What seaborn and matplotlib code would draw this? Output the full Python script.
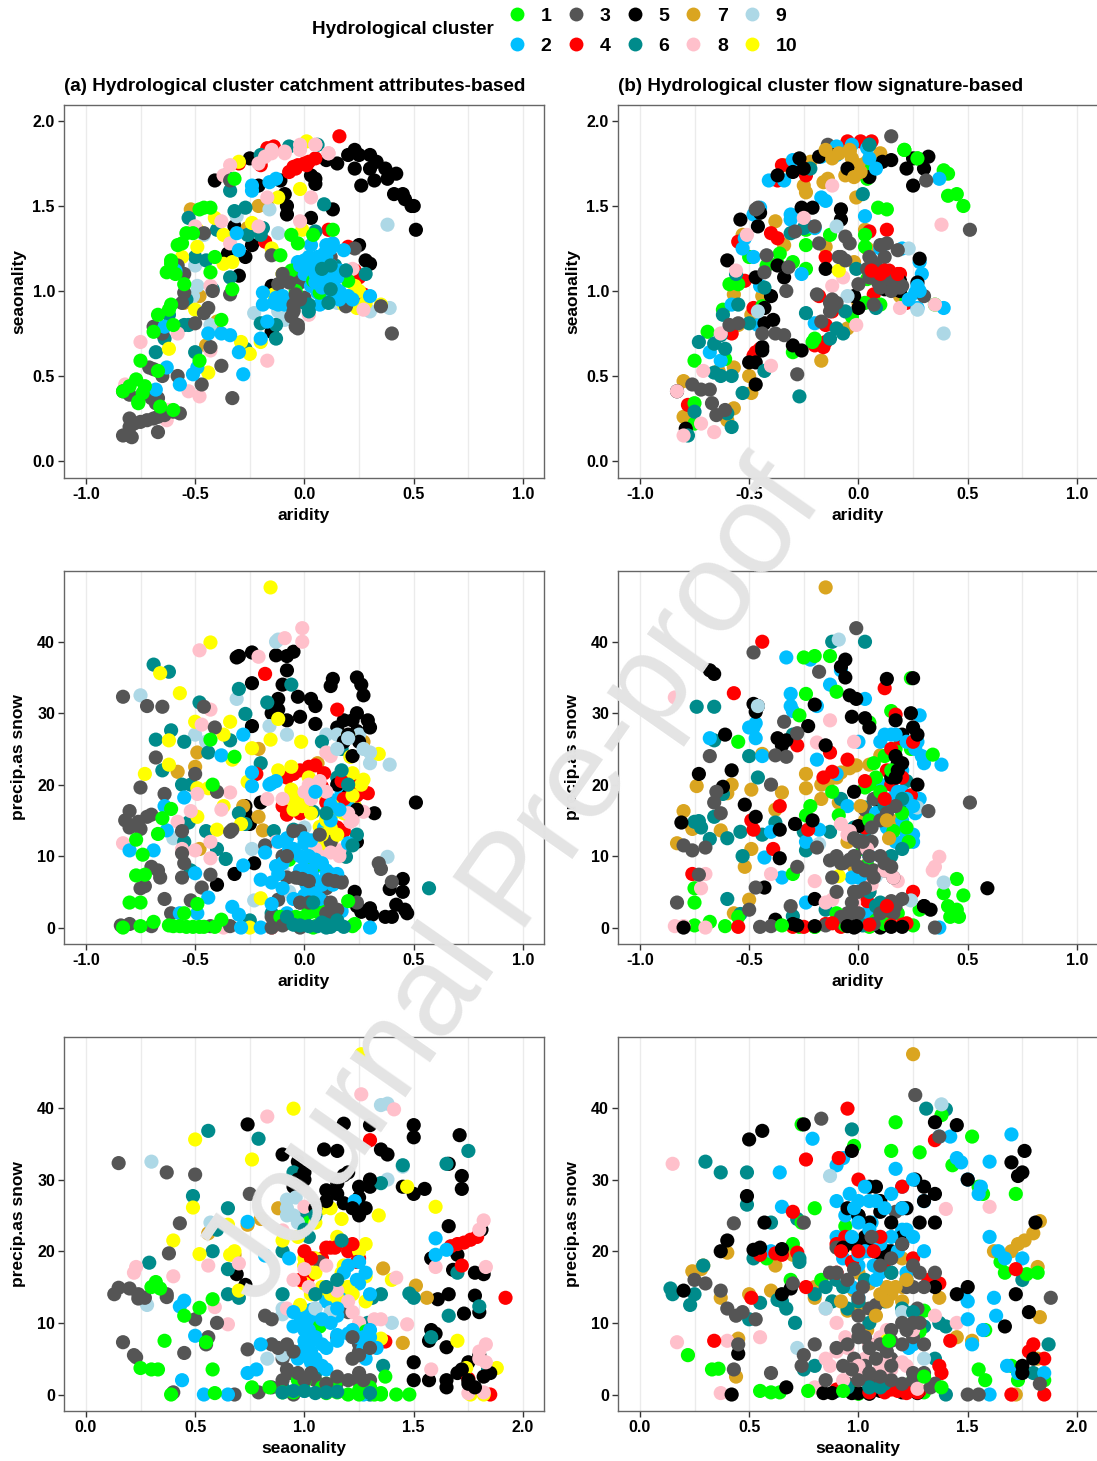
import matplotlib
matplotlib.use("Agg")
import matplotlib.pyplot as plt
from matplotlib.lines import Line2D
from matplotlib.ticker import MultipleLocator
import pandas as pd
import seaborn as sns

COLORS = {1: "#00ff00", 2: "#00bfff", 3: "#555555", 4: "#ff0000", 5: "#000000",
          6: "#008b8b", 7: "#daa520", 8: "#ffc0cb", 9: "#add8e6", 10: "#ffff00"}

a_ar_se = {
 5: [(-.41,1.65),(-.25,1.78),(-.21,1.62),(-.11,1.65),(-.09,1.57),(-.08,1.5),(-.08,1.45),(.03,1.68),(.05,1.66),(.05,1.63),(.1,1.77),(.15,1.75),(.2,1.8),(.23,1.83),(.25,1.8),(.3,1.8),(.33,1.76),(.23,1.72),(.3,1.72),(.32,1.65),(.37,1.72),(.38,1.66),(.42,1.69),(.41,1.57),(.45,1.57),(.46,1.54),(.49,1.5),(.5,1.5),(.51,1.36),(.26,1.62),(.13,1.48),(.03,1.43),(-.32,1.38),(-.35,1.22),(-.27,1.2),(-.24,1.27),(-.3,1.09),(-.15,.76),(.25,1.27),(.28,1.18),(.3,1.16),(-.15,1.03)],
 7: [(-.52,1.48),(-.21,1.5),(-.17,1.5),(-.26,1.37),(-.48,.97),(-.55,.93),(-.4,.82),(-.45,.68)],
 9: [(-.46,1.33),(-.31,1.44),(-.16,1.48),(.38,1.39),(-.12,1.34),(-.5,1.15),(-.49,1.03),(-.51,.97),(-.23,.87),(-.09,.83),(-.43,.8),(.39,.9),(.3,.88),(-.12,.88),(.15,.93)],
 4: [(.16,1.91),(-.14,1.85),(-.17,1.84),(-.3,1.75),(-.2,1.74),(-.07,1.7),(-.05,1.73),(-.03,1.74),(0,1.75),(.02,1.76),(.05,1.78),(-.18,1.29),(.11,1.36),(.23,1.12),(.25,1.08),(.27,.98),(.2,1.26)],
 6: [(-.34,1.59),(-.36,1.68),(-.2,1.8),(-.07,1.85),(.06,1.86),(.09,1.51),(-.53,1.43),(-.32,1.47),(-.27,1.49),(-.4,1.36),(-.19,1.37),(-.26,1.33),(-.45,1.18),(-.5,1.2),(-.34,1.08),(-.42,1.01),(-.54,.95),(-.55,.8),(-.68,.64),(-.64,.72),(-.5,.64),(-.27,.66),(-.2,.81),(-.13,.72),(-.13,.8),(-.62,.86),(.0,.93),(.02,.9),(.11,.94),(.12,1.01),(.09,1.13),(.14,1.15),(.19,1.12),(-.53,.8),(.28,1.1),(.05,1.35),(-.2,1.33)],
 10: [(.01,1.88),(-.3,1.76),(-.02,1.6),(-.12,1.55),(-.41,1.43),(-.24,1.4),(-.01,1.36),(-.37,1.33),(-.49,1.26),(-.56,1.2),(-.49,1.36),(-.37,1.16),(-.33,1.17),(-.15,1.25),(-.1,1.1),(-.14,.98),(-.5,.89),(-.62,.66),(-.44,.52),(-.29,.7),(-.25,.63),(-.2,.7),(.23,1.03),(.25,1.0),(.28,.93),(.35,.92),(.24,.9),(.18,.92)],
 8: [(-.34,1.74),(-.37,1.68),(-.18,1.79),(-.15,1.81),(-.09,1.81),(-.02,1.83),(.05,1.86),(.11,1.81),(-.21,1.75),(-.17,1.55),(.03,1.55),(-.02,1.41),(-.38,1.41),(-.5,1.38),(-.21,1.38),(-.34,1.28),(-.43,1.03),(.22,1.13),(.27,.89),(.02,.86),(-.75,.7),(-.58,.75),(-.43,.65),(-.17,.59),(-.53,.41),(-.48,.38),(-.82,.45),(-.62,.3),(-.63,.24)],
 3: [(-.34,1.65),(-.46,1.34),(-.15,1.21),(-.42,1.0),(-.55,.99),(-.56,.93),(-.44,.9),(-.46,.87),(-.5,.81),(-.65,.75),(-.69,.79),(.0,.96),(-.05,.95),(-.05,.89),(-.06,.85),(-.04,.79),(-.03,.78),(-.03,.8),(-.12,1.04),(-.08,1.1),(-.05,1.08),(-.02,1.05),(.12,1.2),(.23,1.25),(.19,.91),(.35,.91),(.4,.75),(-.43,.67),(-.38,.56),(-.71,.55),(-.69,.54),(-.65,.5),(-.58,.5),(-.47,.45),(-.33,.37),(-.83,.41),(-.8,.39),(-.68,.34),(-.7,.37),(-.67,.37),(-.6,.29),(-.57,.28),(-.64,.27),(-.69,.25),(-.72,.24),(-.75,.23),(-.67,.26),(-.8,.25),(-.78,.22),(-.8,.2),(-.67,.17),(-.83,.15),(-.8,.15),(-.79,.14),(-.55,1.1),(-.58,1.15),(-.34,.98)],
 2: [(-.24,1.62),(-.24,1.59),(-.16,1.64),(-.13,1.66),(-.31,1.34),(-.3,1.24),(-.59,1.12),(-.64,.79),(-.44,.75),(-.38,.75),(-.34,.74),(-.2,.72),(-.3,.64),(-.28,.51),(-.57,.45),(-.51,.51),(-.49,.55),(-.63,.55),(-.68,.42),(-.19,.99),(-.19,.92),(-.17,.82),(-.12,.95),(-.14,.93),(-.1,.97),(-.03,1.17),(.01,1.14),(.06,1.2),(.03,1.27),(.1,1.27),(.13,1.28),(.18,1.24),(.09,1.22),(.04,1.12),(0,1.1),(.09,1.06),(.13,1.05),(.1,1.01),(.06,.99),(.03,1.03),(.16,1.0),(.2,.97),(.22,.95),(.3,.97),(.07,.92),(.12,1.15),(.16,1.12),(.02,1.2)],
 1: [(-.43,1.49),(-.46,1.49),(-.48,1.48),(-.54,1.34),(-.51,1.34),(-.56,1.28),(-.58,1.27),(-.61,1.18),(-.61,1.16),(-.63,1.11),(-.59,1.1),(-.55,1.04),(-.41,1.2),(-.43,1.11),(-.33,1.01),(-.61,.92),(-.62,.89),(-.67,.86),(-.6,.8),(-.69,.76),(-.75,.59),(-.67,.53),(-.77,.48),(-.73,.44),(-.8,.44),(-.83,.41),(-.74,.4),(-.76,.35),(-.76,.34),(-.66,.32),(-.6,.3),(-.38,.83),(-.48,.59),(-.32,1.66),(-.06,1.33),(-.03,1.28),(.04,1.33),(.13,1.36),(-.11,1.21),(.04,1.06),(.07,.99),(-.04,1.0),(.2,1.06),(-.06,1.12)],
}
a_ar_se_top = {
 2: [(.02,1.15),(.05,1.1),(.07,1.15),(.12,1.1),(.15,1.08),(.05,1.05),(.08,1.02),(.13,.98),(.16,.95),(.1,1.2),(-.02,1.15),(.0,1.18),(.12,1.25),(-.1,.95),(-.13,.96),(-.12,.92),(-.09,.92)],
 6: [(.08,1.13),(.12,1.15),(.19,1.12),(.12,1.01),(.11,.93),(.02,.92),(.02,.88)],
 3: [(-.07,1.05),(-.1,1.1),(-.04,.98),(-.05,.92),(-.02,.95),(-.05,.88)],
 4: [(.01,1.74),(-.04,1.72)],
 8: [(-.15,1.83),(-.09,1.82),(-.02,1.86),(.05,1.86),(.11,1.81)],
}

b_ar_se = {
 7: [(-.34,1.74),(-.22,1.76),(-.25,1.62),(-.24,1.58),(-.16,1.64),(-.14,1.66),(-.14,1.82),(-.09,1.81),(-.04,1.82),(-.03,1.78),(.0,1.74),(.03,1.75),(.05,1.78),(.1,1.81),(-.06,1.68),(-.01,1.55),(-.53,1.33),(-.38,1.41),(-.34,1.27),(-.15,1.26),(-.57,.98),(-.44,.97),(-.55,.8),(-.57,.55),(-.5,.5),(-.49,.4),(-.64,.53),(-.8,.47),(-.8,.26),(-.6,.24),(-.57,.31),(-.17,.59),(-.05,.78),(.0,.93),(-.02,1.17),(.19,.97),(.04,1.25),(.03,1.36),(-.49,.86)],
 4: [(-.55,1.29),(-.4,1.34),(-.37,1.31),(-.52,1.06),(-.48,.9),(-.58,.75),(-.47,.64),(-.45,.66),(-.18,.97),(-.12,.88),(-.15,.8),(-.15,.7),(.05,1.35),(.13,1.36),(.08,1.13),(.14,1.12),(.19,1.1),(.07,.98),(.22,.93),(-.35,1.74),(-.27,1.75),(-.24,1.68),(-.37,1.65),(-.05,1.88),(.01,1.88),(.06,1.88),(-.2,.68),(-.78,.33),(-.48,.62),(-.16,.67),(-.15,1.2),(-.54,1.06)],
 1: [(-.5,1.2),(-.42,1.15),(-.37,1.16),(-.36,1.22),(-.24,1.13),(-.3,1.17),(-.24,1.36),(-.24,1.27),(-.13,1.33),(.03,1.26),(.03,1.33),(.06,1.72),(.04,1.66),(.21,1.83),(.27,1.78),(.39,1.71),(.41,1.69),(.41,1.56),(.45,1.57),(.48,1.5),(.09,1.49),(.13,1.48),(-.59,1.04),(-.55,1.04),(-.44,.91),(-.62,.89),(-.69,.76),(-.75,.59),(-.61,.6),(-.75,.34),(-.75,.22),(-.21,.7),(-.3,.64),(-.2,.72),(.04,1.07),(.1,.92),(.22,.95),(.35,.92),(-.03,.85),(.03,.93)],
 2: [(-.41,1.65),(-.34,1.65),(-.3,1.77),(-.17,1.55),(-.15,1.53),(-.31,1.45),(-.31,1.42),(-.23,1.38),(-.2,1.37),(-.48,1.45),(-.45,1.49),(-.52,1.31),(-.53,1.25),(-.48,1.2),(-.45,1.03),(-.26,1.1),(-.58,.92),(-.46,.8),(-.2,.81),(-.68,.64),(-.63,.59),(.03,1.44),(.28,1.17),(.29,1.1),(.26,.99),(.27,.9),(.39,.9),(.1,1.25),(.2,1.25),(-.03,1.86),(-.17,1.79),(-.1,1.8),(.37,1.66),(.04,1.84)],
 5: [(.32,1.79),(.25,1.78),(.22,1.72),(.3,1.72),(.15,1.77),(.11,1.76),(.05,1.67),(.25,1.62),(-.27,1.78),(-.3,1.7),(-.37,1.68),(-.26,1.49),(-.21,1.49),(-.08,1.48),(-.08,1.42),(-.46,1.38),(-.54,1.42),(-.45,1.46),(-.6,1.18),(-.37,1.15),(-.34,1.08),(-.47,1.08),(-.4,.97),(-.43,.9),(-.39,.83),(-.43,.81),(-.44,.67),(-.44,.65),(-.5,.58),(-.47,.58),(-.47,.45),(-.3,.68),(-.26,.65),(-.83,.41),(-.79,.19),(-.15,1.13),(-.02,.97),(.0,.9),(.12,1.01),(.19,1.06),(.27,1.05),(.28,1.19),(.19,1.0)],
 6: [(.05,1.86),(-.22,1.72),(.02,1.57),(-.62,.86),(-.5,.81),(-.66,.69),(-.63,.74),(-.61,.66),(-.66,.52),(-.63,.5),(-.58,.5),(-.53,.4),(-.43,.53),(-.24,.87),(-.27,.38),(-.13,.72),(-.1,.78),(-.06,.88),(-.01,1.13),(-.31,1.34),(-.25,1.37),(-.56,1.1),(-.43,1.02),(-.78,.15),(-.75,.29),(-.6,.28),(-.58,.2),(.08,.9),(-.55,.92),(-.73,.7),(-.07,.75)],
 8: [(-.63,.75),(-.4,.56),(-.83,.41),(-.71,.53),(-.66,.17),(-.8,.15),(-.72,.22),(-.56,1.12),(-.51,1.33),(.38,1.39),(.35,.92),(.19,.9),(-.12,1.03),(-.07,1.08),(-.01,.8),(-.12,1.62),(-.25,1.43)],
 9: [(.39,.75),(.27,.89),(-.1,1.38),(.23,1.25),(-.46,.88),(-.05,.97)],
 10: [(-.09,1.12)],
 3: [(.15,1.91),(-.14,1.86),(.31,1.65),(.51,1.36),(-.46,1.49),(-.47,1.48),(-.2,1.38),(-.29,1.35),(-.06,1.32),(-.04,1.28),(-.18,1.28),(-.42,1.21),(-.32,1.14),(-.43,1.11),(-.33,1.0),(-.19,.98),(-.13,.93),(-.12,.9),(-.17,.82),(-.59,.8),(-.55,.81),(-.44,.75),(-.38,.75),(-.34,.74),(-.28,.51),(-.76,.45),(-.72,.42),(-.68,.42),(-.67,.34),(-.61,.3),(-.65,.27),(.1,1.27),(.13,1.28),(.18,1.24),(.05,1.2),(.04,1.13),(.0,1.04),(.12,1.12),(.15,1.06),(.19,1.02),(.09,1.05),(-.09,1.2),(-.06,1.18),(.3,.97),(.07,.92)],
}
b_ar_se_top = {
 2: [(-.1,1.85),(.05,1.78),(.08,1.72),(-.13,1.8),(.27,1.03),(.28,1.0),(.23,.95)],
 5: [(-.12,1.8),(-.18,1.79),(-.25,1.72),(-.05,1.72)],
 7: [(-.15,1.83),(-.12,1.78),(-.02,1.67),(.01,1.7),(-.09,1.81),(-.04,1.83)],
 3: [(.1,1.1),(.13,1.08),(.18,1.06),(.2,1.03),(.15,1.0),(.17,1.02),(.08,1.15),(.12,1.2),(.05,1.08),(.06,1.18),(-.08,1.2),(-.12,.95),(-.1,.93),(-.13,.88),(.1,1.02)],
 4: [(.12,1.12),(.06,1.12),(.18,1.1),(.1,1.1)],
 6: [(.05,1.86)],
 1: [(.21,1.83),(.27,1.78)],
}

a_ar_sn = {
 5: [(-.31,37.8),(-.3,38),(-.24,38.5),(-.13,38.1),(-.08,38),(-.05,38.6),(-.08,36),(-.1,34),(-.12,32),(-.12,30.5),(-.24,34.2),(-.24,28.2),(-.03,32.3),(.03,32),(.05,31),(.13,34.8),(.12,33.8),(.24,35),(.26,34),(.27,32.5),(.24,30),(.22,29),(.18,29),(.15,28),(.29,29),(.24,27.5),(-.15,30),(-.08,29),(-.02,29.5),(.05,28.5),(.51,17.5),(.32,16),(.24,12),(-.27,17),(-.27,16),(-.25,14.5),(-.2,17.5),(-.23,9),(-.32,7.5),(-.4,6),(.45,6.8),(.45,5),(.39,5.4),(.42,3.2),(.46,2.5),(.47,2),(.37,1.5),(.4,1.5),(.3,2.7),(.31,1.8),(.26,2.2),(.23,5),(.24,3)],
 7: [(-.49,24.5),(-.5,22.5),(-.58,21.8),(-.21,25),(-.28,17),(-.21,15.5),(-.19,13.6),(.06,23),(.27,26),(-.48,11)],
 9: [(-.75,32.5),(-.31,32),(-.13,40),(-.12,40.3),(-.16,28.2),(-.08,27),(-.5,27),(-.45,26),(.38,9.9),(.39,22.8),(.3,23),(.1,27),(.15,27),(.2,26.6),(.25,27),(.0,14),(-.24,11),(-.23,3.8),(-.07,5),(-.1,8),(.02,12),(-.6,12.5)],
 6: [(-.69,36.8),(-.62,35.8),(-.3,33.4),(-.48,31.5),(-.27,29.9),(-.17,31.5),(-.06,34),(-.68,26.3),(-.61,27.6),(-.55,26),(-.34,26.2),(-.44,24.5),(-.2,23),(-.65,22),(-.56,20),(-.52,20),(-.3,16),(-.27,14.5),(-.45,13.5),(-.4,11),(-.36,9.6),(-.55,12),(-.53,14.7),(.08,26),(.17,25),(.15,21),(.04,16.2),(.24,13),(.19,9.9),(-.14,13.5),(-.05,13.7),(.57,5.5),(-.25,1),(.05,3.7),(.1,1),(.15,.5),(.1,0),(-.15,2),(-.52,8)],
 4: [(-.18,35.5),(.15,30.5),(-.22,21.5),(-.08,21),(-.05,21.5),(-.02,22),(.02,22.5),(.05,22.7),(.09,21.6),(.08,19.7),(.22,20),(.27,19),(.29,18.8),(-.08,15.8),(-.02,16),(.18,13.5),(-.15,0)],
 10: [(-.155,47.6),(-.43,39.9),(-.66,35.6),(-.57,32.8),(-.12,29.2),(-.34,28.8),(-.5,28.8),(-.37,27),(-.62,26.2),(-.155,26.3),(-.015,26),(-.24,25.1),(.2,26.9),(.21,23.9),(.34,24.3),(-.62,22.8),(-.73,21.5),(-.33,23.5),(-.12,22),(.22,21.6),(.27,20.7),(-.26,20.4),(-.49,19.5),(-.44,19.5),(-.06,19.3),(-.03,18.3),(.1,18.1),(.23,17),(-.37,17),(-.49,15.5),(-.29,14.5),(-.4,13.7),(.13,16),(.1,15.3),(.07,14.1),(.14,14.1),(.13,12.5),(.07,11.5),(-.2,4.1),(-.25,0),(-.06,22.5),(.02,21)],
 8: [(-.48,38.8),(-.21,37.9),(-.01,41.9),(-.01,40),(-.09,40.5),(-.43,30.5),(-.47,28.4),(.1,24.5),(.12,24),(-.34,18.9),(-.49,18.7),(-.52,16.3),(-.58,14.8),(-.38,16.5),(-.09,17.5),(.03,18),(.02,20),(.0,19),(-.17,18),(.27,16.2),(.21,14.8),(-.56,11),(-.5,10.8),(-.43,12),(-.43,9.7),(-.83,11.8),(.16,10.8),(-.13,12),(-.15,0),(-.37,0),(.07,10)],
 3: [(-.83,32.3),(-.72,31),(-.65,30.9),(-.46,30.9),(-.41,28),(-.68,23.8),(-.5,21.5),(-.75,19.6),(-.64,18.7),(-.4,19),(-.8,16.3),(-.82,15),(-.8,14),(-.76,14.8),(-.75,13.8),(-.72,15.5),(-.7,15.8),(-.56,13.5),(-.34,13.4),(-.56,10.4),(-.55,9),(-.7,8.5),(-.67,8),(-.66,7),(-.56,7),(-.43,7.4),(-.47,5.6),(-.75,5.5),(-.73,5.8),(-.64,4),(-.52,3.8),(-.61,2),(-.84,.3),(-.8,.5),(-.7,.2),(-.43,.2),(-.34,.2),(.34,9),(.35,8.2),(.4,6.4),(.17,6.5),(.1,6.5),(.1,5.5),(.04,6.5),(-.03,7),(.01,6.5),(-.08,7),(-.12,3.9),(-.02,3.5),(-.15,1.5),(-.02,0),(.12,12),(-.02,13.5),(.1,3.5),(.24,3.5),(-.18,11.5),(-.1,10),(-.33,13.7)],
 2: [(-.24,21.7),(-.15,20.2),(-.13,20.5),(-.24,19.8),(-.28,27),(-.38,24.1),(-.55,18.2),(-.64,17),(-.63,13.6),(-.69,10.8),(-.8,10.8),(-.5,7.6),(-.28,8.7),(-.2,6.7),(-.15,6.3),(-.13,8.6),(-.18,10.5),(-.07,11),(.0,11.8),(.03,11),(.0,9.5),(.05,8.5),(.1,8),(.15,7.5),(.01,6),(.02,4.7),(.05,4.8),(-.44,4.2),(-.33,2.9),(-.3,1.8),(-.29,0),(-.2,0),(-.15,3.3),(-.57,2),(-.49,2),(.3,0),(.17,19),(.18,17.5),(.2,17),(.13,17.8),(.2,11.8),(.09,14),(-.08,2),(.17,2.3)],
 1: [(-.77,12.3),(-.74,10.2),(-.77,7.3),(-.73,7.4),(-.8,3.5),(-.75,3.5),(-.83,0),(-.75,.2),(-.69,.8),(-.62,.3),(-.6,.2),(-.57,.2),(-.54,.1),(-.51,.1),(-.48,.1),(-.46,.1),(-.41,.1),(-.38,1.1),(-.49,3.3),(-.55,2),(-.61,16.6),(-.65,15.3),(-.67,13.1),(-.43,26.3),(-.32,23.9),(-.42,20),(-.11,1.5),(-.07,.7),(-.04,1.5),(.02,2.3),(.05,2.3),(.08,3),(.2,3.7),(.04,0),(.13,2),(.23,.5),(-.07,9.5),(.05,8.7)],
}
a_ar_sn_top = {
 5: [(.2,27),(.18,26),(.22,24),(.3,28),(.25,26),(.2,18.5),(.24,16.5),(.15,20)],
 9: [(.2,26.5),(.27,25),(.3,24.5),(.15,25)],
 4: [(.17,20.5),(.22,19),(.24,18.5),(.1,17.5),(.18,18),(.15,14),(-.1,17)],
 10: [(-.06,18),(-.05,16.5),(-.01,17),(.03,16),(.1,15),(.12,14),(.13,17),(.08,13),(.15,13),(.18,16),(.22,18.5),(.26,20)],
 8: [(.05,19.5),(.03,18),(.1,19),(.22,15),(.2,16),(-.1,18),(.07,20.5),(.12,10.5),(.16,10),(.05,11)],
 2: [(-.12,12),(-.1,9),(-.12,7.5),(-.05,11),(-.02,10),(0,12.5),(.02,10),(.03,8),(.05,9.5),(.08,9),(.1,7),(.12,7.5),(.04,7),(.08,6),(.13,6),(.0,4.5),(.03,4.2),(.07,4),(-.05,4),(-.1,5.5),(-.08,12.5),(-.02,8),(.03,12.2),(.12,17.2),(.16,16.5),(.05,19),(-.16,20),(.12,15)],
 1: [(.0,1.5),(.03,2.2),(.07,2),(-.1,1),(-.03,.5),(.05,.2),(.22,.2)],
 3: [(-.04,7),(-.01,6.8),(.02,6.5),(.11,6.7),(.14,6.5),(.17,6.3),(-.02,3.5),(.02,3.5),(.12,3.5),(.1,2),(.15,2.5),(-.1,.3),(-.15,0),(.07,13),(-.05,13.5),(-.08,10)],
 6: [(-.02,.3),(.02,.2),(.06,.2),(.1,.4),(.12,.1),(.15,1),(.18,.1),(.08,.7),(-.08,1.5),(-.05,.4),(.04,3.5),(.1,16),(.2,20),(.17,22),(.22,11.5)],
}

b_ar_sn = {
 7: [(-.15,47.6),(-.74,19.8),(-.8,16.3),(-.83,11.8),(-.76,13.8),(-.63,13.6),(-.6,18.8),(-.58,20),(-.49,19.3),(-.44,24.3),(-.35,18.9),(-.38,16.5),(-.24,21.5),(-.24,19.5),(-.17,20),(-.14,20.3),(-.1,21),(-.08,21.7),(-.04,22.3),(-.01,22.7),(.05,22.8),(.1,24.1),(-.17,18),(-.09,17.5),(.03,15),(.04,16),(.13,16.3),(.15,15),(.14,13.8),(.2,11.5),(-.52,8.5),(-.49,11),(-.02,8.5),(-.05,12),(-.5,3.9),(-.57,2),(.04,8.8)],
 6: [(-.73,14.9),(-.72,14),(-.66,15.5),(-.62,18.7),(-.66,26.2),(-.74,30.9),(-.66,30.9),(-.75,14.8),(-.68,12.4),(-.6,12.5),(-.54,13.4),(-.5,24),(-.44,13),(-.46,21),(-.3,27),(-.25,13.4),(-.24,10.8),(-.13,13.4),(-.38,14.7),(-.53,10),(-.6,4),(-.54,1.9),(-.3,1.6),(.03,40),(-.12,40),(.03,16.8),(.1,17.2),(.2,17.5),(.22,20.5),(-.08,18),(.15,10),(-.02,14),(.03,12.5),(.1,3.5),(-.15,2.5),(.05,1)],
 2: [(-.33,37.8),(-.22,37.5),(-.31,32.7),(-.31,31),(-.3,30.3),(-.19,31),(-.13,34),(-.08,36),(-.68,26.5),(-.5,28),(-.47,28.6),(-.47,26.5),(-.44,24),(-.48,28),(-.19,23.5),(-.1,21.5),(-.18,13.7),(-.43,9.8),(-.4,13.4),(-.24,12),(.0,26),(.03,32),(.1,26),(.12,27),(.28,29.7),(.29,24),(.27,26),(.3,23),(.38,22.8),(.1,20),(.2,19),(.28,18),(.26,16),(.2,15),(.22,13),(.25,12),(-.03,7),(.0,7),(.37,0),(-.24,3.5),(.04,2),(.15,20),(-.05,17),(-.35,7)],
 1: [(-.2,38),(-.25,37.8),(-.13,38),(-.1,33),(-.24,32.7),(-.27,29.7),(-.55,26),(.15,30.3),(.24,34.9),(.05,28.7),(.34,24.2),(.24,25),(.17,25),(.07,23),(.03,19.6),(-.22,17),(-.24,15.7),(-.09,15.7),(-.12,19),(.02,11),(.04,8.7),(.45,6.8),(.39,4.8),(.48,4.5),(.41,3),(.45,2.5),(.42,1.5),(.46,1.5),(.18,2),(.28,2.5),(-.75,5.5),(-.75,3.5),(-.68,.8),(-.75,.3),(-.61,.2),(-.55,1.5),(-.3,7.5),(-.27,.1),(-.2,.1),(.05,.1)],
 4: [(-.44,40),(-.57,32.8),(-.28,25.5),(-.36,17),(-.49,15),(-.48,13.7),(-.39,11),(-.13,24.5),(-.12,21.8),(-.05,23.5),(.12,33.5),(.17,29.8),(.19,26.5),(.13,22),(.24,18.5),(-.23,13.7),(-.76,7.5),(.25,5),(.04,3.7),(.13,2),(-.15,.5),(-.3,.1),(-.08,.1),(.2,.4),(-.55,.1),(-.16,21),(.15,20),(.03,14)],
 8: [(-.84,32.2),(-.84,.2),(-.8,.2),(-.7,0),(-.4,7.5),(-.19,25.9),(-.13,29),(-.02,26),(.37,9.9),(.35,8.5),(.34,8),(-.7,7.5),(-.72,5.5),(-.2,6.5),(-.12,3.9),(-.02,3.5),(-.05,13),(-.08,14.5),(.18,6.5)],
 5: [(-.68,36),(-.66,35.5),(-.48,31.3),(-.47,30.2),(-.46,31),(-.61,27),(-.73,21.5),(-.58,22),(-.62,19.7),(-.47,15.5),(-.52,17.2),(-.81,14.7),(-.43,5.6),(-.8,0),(-.38,1.1),(-.35,25.5),(-.37,26.5),(-.33,26.2),(-.23,28.2),(-.2,31.2),(-.15,25.5),(-.08,36.5),(-.06,37.5),(-.06,35),(-.04,32.5),(-.01,32),(.03,29.3),(-.03,29.5),(.05,28),(.13,34.8),(.25,34.9),(.24,30),(.17,29),(.2,27),(.18,23),(.15,21),(.27,20),(.08,18),(-.02,19),(.0,14.2),(-.21,15),(-.29,14.5),(-.36,13.7),(-.36,9.7),(-.2,4),(.33,2.5),(.59,5.5),(.3,3),(-.02,0),(.1,0),(-.3,.5)],
 9: [(-.09,40.3),(-.46,31),(.27,16.8),(.39,6.3),(.08,7.2),(.24,3.8),(-.18,11.7)],
 10: [(-.09,7.2)],
 3: [(-.48,38.5),(-.18,35.8),(-.01,41.9),(.51,17.5),(.32,16.3),(-.34,28.8),(-.28,27.2),(-.38,24.1),(-.33,23.9),(-.68,24),(-.4,20),(-.65,19),(-.66,17.5),(-.63,16),(-.8,11.5),(-.76,10.8),(-.7,11.2),(-.73,7.4),(-.83,3.5),(-.47,5.6),(-.5,2.5),(-.45,.1),(-.31,3),(-.19,11.2),(-.28,8.5),(-.13,9.4),(-.08,9),(.0,12),(.03,11),(.06,12),(-.02,10),(.07,8),(.12,8),(.16,7),(-.12,7),(-.1,5),(-.02,5),(.05,5),(.15,3.7),(.2,4),(-.07,1.5),(-.05,2),(.35,0),(.03,16.5),(.1,18),(.17,17),(.07,18),(-.07,.5),(-.4,.2)],
}
b_ar_sn_top = {
 2: [(.15,18),(.18,19),(.22,18),(.25,17),(.2,22),(.26,25),(.22,26),(.15,27),(.17,27),(.08,16),(.13,14),(.2,14),(.17,12),(.25,13),(.05,10),(.03,6.5)],
 1: [(.12,24),(.15,22),(.1,19),(.16,13.5),(.2,16),(.22,14),(.23,12),(.08,21),(.05,20),(.05,15),(-.1,2),(.12,.5),(.25,.3),(.08,1),(-.06,.3),(-.2,.1),(-.35,.3)],
 6: [(.2,18),(.2,11),(.12,17),(.05,5),(.08,3),(.02,.3)],
 8: [(.04,11),(.12,8),(.16,7),(.06,6),(-.04,13.5),(-.15,3.5)],
 3: [(-.1,10),(-.07,9),(-.04,9.5),(.0,8.5),(.03,8),(.07,7),(.12,9),(.15,8.5),(-.02,12.5),(.02,12),(.05,10),(.1,10),(.06,14),(.1,15),(.13,16),(.17,17),(.03,5.5),(.0,5),(-.03,3.5),(.1,2),(.16,2),(.17,3),(.0,2),(-.08,1.5),(-.05,1),(-.15,.3),(.07,.5)],
 7: [(.01,17),(.13,15),(.14,12.5)],
 4: [(.2,21),(.15,25),(.25,26),(.05,.4),(.15,.3),(.22,.6),(-.12,.6),(-.25,.1),(.03,20.5),(.12,18),(.13,3)],
 5: [(.17,24),(.2,23),(.18,22),(.17,21),(.25,28),(.27,27),(-.28,.3),(-.2,.2),(-.05,.2),(-.01,.2),(.15,.1),(.2,.1),(.3,3)],
}

a_se_sn = {
 5: [(.74,37.7),(1.18,37.8),(1.3,37.6),(1.5,37.6),(1.5,35.9),(1.71,36.2),(1.15,34),(1.09,34.2),(.9,33.5),(.97,32.5),(1.35,34.2),(1.38,33.5),(1.18,30.6),(1.0,30),(.95,29),(1.1,28.5),(1.3,29),(1.25,27.5),(1.5,28),(1.45,29),(1.66,32.2),(1.72,30.5),(1.72,28.7),(1.18,26.7),(1.24,25.8),(1.02,25),(1.55,28.7),(1.66,23.5),(1.81,23),(1.7,19.5),(1.58,19),(1.68,17.4),(1.78,17),(1.82,16.8),(.69,16.8),(.73,15.3),(1.66,14),(1.61,13.3),(1.78,13.8),(1.73,11.3),(1.8,11.5),(1.58,9),(1.6,8.5),(1.57,7.5),(1.65,6.6),(1.5,4.5),(1.57,2),(1.5,2),(1.65,2),(1.7,3),(1.75,4.5),(1.8,5.5)],
 7: [(.88,26),(.8,24.5),(.74,23.7),(.56,22.5),(.68,19.5),(1.36,17.6),(1.51,15.2),(1.56,13.5),(1.45,7.2)],
 9: [(.28,12.5),(.3,32.5),(.57,24),(.92,27.2),(.96,27.5),(.92,25),(1.35,40.4),(1.38,40.6),(1.45,31.8),(1.38,30),(.9,11.2),(1.05,12),(.85,7),(.83,5),(1.12,12.5),(1.4,10)],
 6: [(.56,36.8),(.79,35.7),(.49,27.7),(.65,26),(.95,31),(.29,18.4),(1.45,32),(1.35,29.5),(.6,23),(.65,17.5),(.58,20),(.7,13.5),(.65,14),(1.0,25),(1.02,22),(.9,20),(.9,14),(1.1,14),(1.31,13.5),(1.35,14),(1.29,10),(1.65,32.2),(1.75,34),(1.7,17),(1.48,14.1),(1.5,13.5),(1.58,8),(1.66,11),(1.8,12.3),(1.84,3.5),(1.36,4),(1.05,3),(.9,1),(1.1,.5),(1.3,0)],
 4: [(1.3,35.5),(1.72,18),(1.67,20.7),(1.7,21),(1.73,21.2),(1.76,21.6),(1.79,22),(1.04,19),(1.08,19),(1.12,20.5),(1.2,20),(1.02,16.5),(1.25,19),(1.92,13.5),(1.37,7.4),(1.75,2.2),(1.85,0)],
 10: [(1.26,47.5),(.95,39.9),(.5,35.6),(.76,32.8),(.49,26.1),(.4,21.5),(.52,19.6),(.66,19.5),(.68,20),(.65,23.7),(1.17,24.5),(1.12,26),(1.34,25),(1.47,29),(1.6,26.2),(1.28,16.5),(1.4,16),(1.05,19),(.9,21.5),(1.03,14),(1.1,14.5),(1.2,15),(1.28,13),(1.35,7.8),(1.7,7.5),(1.74,3.7),(1.88,3.7),(1.76,0),(1.82,0),(.97,22),(1.0,18),(.7,14.5),(1.07,10)],
 8: [(.83,38.8),(1.26,41.9),(1.41,39.8),(1.0,26.2),(.9,22.9),(.23,17.8),(.4,16.5),(.56,18),(.7,18.3),(.65,9.8),(.22,17),(.59,12.2),(1.42,16.3),(1.35,10.5),(1.6,17.8),(1.82,24.3),(1.8,23),(1.83,17.8),(1.47,9.8),(1.32,10.5),(1.83,7),(1.8,5),(1.58,3.5),(1.75,.2),(1.82,.3),(1.0,11),(1.25,10)],
 3: [(.15,32.3),(.37,31),(.5,30.7),(.75,28),(.43,23.9),(.38,19.7),(.13,14),(.15,14.9),(.2,14.8),(.24,14),(.24,13.4),(.27,13.5),(.37,13.6),(.37,14),(.5,10.5),(.56,8),(.55,7),(.17,7.3),(.22,5.5),(.23,5.2),(.45,5.8),(.74,6.3),(.85,7),(1.15,8),(1.25,7),(1.25,6),(1.22,5),(.9,5),(.94,6),(.93,3),(1.05,2),(.85,1),(1.15,1.7),(1.25,1.8),(1.3,2),(.4,.3),(.79,.3),(.68,0),(.95,0),(1.14,.5),(1.07,18.5),(1.2,11.5),(.85,10.5),(.9,2),(.6,10),(.82,11)],
 2: [(.74,24.1),(.45,13.1),(.43,12.3),(.5,8.2),(.74,3),(.44,2),(.54,0),(.65,0),(1.23,27),(.82,19.4),(1.6,21.8),(1.65,20.2),(1.6,19.5),(.96,11.5),(1.0,11),(1.03,11.8),(1.05,10.5),(1.15,11),(1.2,14),(1.0,9),(1.03,7.5),(1.15,8.3),(.98,6),(1.05,5),(1.1,3.5),(1.28,5),(1.3,8),(1.33,6.5),(.78,3.5),(1.0,.5),(1.27,0),(1.1,13),(1.25,15.5),(1.3,14)],
 1: [(.3,15),(.32,15.7),(.34,14.8),(.39,0),(.33,3.5),(.25,3.7),(.36,7.5),(.55,7.3),(.45,11),(.52,12.1),(.58,13.3),(.3,3.5),(.58,3.5),(.59,.2),(.76,1),(.84,1),(1.0,1.8),(1.1,1.5),(1.3,.8),(1.37,2.5),(1.07,9.5),(1.28,8.8),(1.02,24),(1.2,0),(1.35,0),(1.48,0),(1.25,0),(.95,.3)],
}
a_se_sn_top = {
 10: [(1.0,15.5),(1.05,17),(1.08,15),(1.12,14),(1.17,17),(1.2,15),(1.15,13.5),(1.22,14),(1.0,19),(1.0,18),(1.25,20),(1.15,22),(1.28,21),(1.18,18),(1.05,24),(1.08,26),(1.03,14.5),(.98,12.5)],
 4: [(1.0,20),(1.03,19),(1.1,20.5),(1.14,20.5),(1.22,21),(.98,16),(1.24,18.5)],
 5: [(1.05,26),(1.2,31),(1.15,28),(1.22,26),(1.28,26),(1.25,25),(1.3,30),(.97,30),(1.0,31),(1.25,29),(1.1,27),(1.15,29.5),(1.75,1.5),(1.75,2),(1.82,2.5),(1.72,3.5),(1.65,1),(1.85,3),(1.78,1)],
 9: [(.95,25),(.97,24),(.92,26),(.9,12),(1.05,12),(1.12,11.5),(.9,5.5)],
 8: [(.95,16),(1.02,15),(1.1,18),(1.15,14.5),(1.2,13),(1.22,11.5),(.92,12),(1.0,17.5),(1.8,6),(1.83,4.5)],
 2: [(.95,11.5),(.98,10),(.95,9.5),(1.0,7.5),(1.0,6.5),(1.03,6),(1.02,9),(1.05,8),(1.08,7),(1.1,6.5),(1.03,4.5),(1.08,4),(.97,5),(1.15,7.5),(1.2,8.5),(1.22,9),(1.24,8),(1.27,8),(1.27,6.5),(1.3,9),(1.12,10),(1.08,10.5),(1.0,10),(1.15,12),(1.2,18),(1.25,18.5),(1.18,17),(1.24,16),(1.28,17),(.93,19),(1.0,5.5),(.8,7)],
 1: [(.97,2),(1.08,1),(1.15,2),(1.35,.2),(1.25,.6),(1.3,1),(1.42,0),(1.32,0),(1.1,.2),(.9,.3),(1.15,.3)],
 3: [(.88,6.5),(.92,7),(.95,6),(.92,3.5),(.97,3),(1.03,3),(1.15,2.5),(1.25,3),(1.27,2),(1.2,2),(1.1,1.5),(1.0,2),(1.22,8),(1.3,6.5),(1.25,5.5)],
 6: [(.9,.3),(.95,.5),(1.05,.2),(1.1,.3),(1.3,.2),(1.0,.5),(1.15,.4),(1.05,14),(1.1,15),(1.15,16),(1.17,21.5),(1.0,23),(1.05,25)],
}

b_se_sn = {
 7: [(.7,19.5),(.28,17.5),(.29,18),(.24,17.2),(.4,19.8),(.5,14),(.37,13.5),(.45,7.8),(.44,2.5),(.62,18),(.6,14.5),(.8,15),(1.25,47.5),(1.37,13.5),(1.45,8),(1.52,7.5),(1.7,20),(1.73,21),(1.76,21.5),(1.8,22.5),(1.83,24.2),(1.82,17.8),(1.62,20),(1.83,10.8),(1.82,5),(1.72,0),(.97,21),(.98,14.5),(1.0,17),(1.05,15.5),(1.13,15),(1.15,14),(1.2,19),(1.2,15),(1.2,13),(.95,11.7),(1.04,9),(1.02,12),(.8,13.5),(1.0,11.5)],
 6: [(.14,14.8),(.15,14),(.25,14),(.29,18),(.23,12.5),(.3,32.5),(.37,31),(.49,31),(.49,26.5),(.72,24.5),(.55,12.8),(.5,10.5),(.63,13.2),(.65,13),(.8,14),(.67,12),(.71,10),(.88,13),(.95,12),(1.12,13),(1.2,12),(1.05,10),(1.3,9.5),(1.37,10),(1.4,9.5),(1.35,5),(1.4,0),(1.75,16),(1.8,3),(1.87,7),(.75,3.5),(.8,4),(.9,.5),(1.05,1),(.97,37),(1.31,39.9),(1.4,39.8),(.73,18.5),(1.03,16),(.9,16),(.6,24),(.52,19)],
 8: [(.15,32.2),(.17,7.3),(.22,5.5),(.4,7.5),(.55,8),(.37,.2),(.8,1),(1.4,25.9),(1.55,29),(1.6,26.2),(1.45,10),(.94,8),(1.03,5),(1.1,8),(.87,4),(.95,6.5),(1.22,4),(1.0,3),(.85,5),(1.7,0),(.85,12),(.9,10),(1.13,9)],
 1: [(.74,37.7),(1.17,38),(1.15,34),(1.28,33.8),(1.38,39),(.98,34.7),(1.43,32),(1.52,36),(1.57,28),(1.55,29),(1.72,28),(.74,24),(.8,26),(.7,21),(.94,23.5),(1.12,19.5),(.83,16),(.69,16),(.58,19),(1.65,18.5),(1.67,17),(1.77,16.8),(1.82,17),(1.58,9),(.22,5.5),(.33,3.5),(.36,3.6),(.6,.3),(.55,.5),(.64,.3),(.77,.5),(.96,.7),(1.25,2),(1.28,8.8),(1.3,11.7),(1.55,3.5),(1.58,2),(1.7,4),(1.73,2),(1.85,2),(1.0,.1),(1.3,.3)],
 2: [(.65,26.2),(.79,35.7),(.64,31),(.93,33),(.9,32),(1.17,31.5),(1.2,29),(1.3,27),(.6,20),(.96,28),(1,27),(.94,25),(.9,27),(.9,22),(.93,19),(1.05,20),(1.1,22),(1.2,23),(1.37,36),(1.42,36),(1.45,33),(1.47,32.4),(1.7,36.3),(1.6,32.5),(1.5,30),(1.55,28),(1.6,22),(1.64,20),(1.75,19),(1.56,29),(1.67,19),(.97,15),(1.0,18),(1.1,17),(1.22,17),(1.48,14),(1.5,10.5),(1.5,13),(1.62,13.5),(1.63,11),(1.57,9),(1.52,7),(1.68,4),(1.73,3),(1.6,0),(1.85,3),(1.25,7),(1.23,6.5),(1.0,13.5),(1.22,16),(1.06,24)],
 4: [(.95,39.9),(.76,32.8),(.91,33),(1.35,35.5),(.7,25.5),(.62,19.7),(.65,19.5),(.55,19.5),(.72,19.8),(.51,13.5),(.76,15),(.9,21),(.94,22),(1.05,21),(.97,18.5),(1.12,18.5),(1.25,19),(1.32,16),(1.37,15.5),(1.72,17.5),(.34,7.5),(1.37,4),(1.38,3),(1.1,2.5),(1.15,1),(1.22,.5),(1.28,.5),(1.05,.5),(.9,.7),(1.78,6),(1.85,5),(1.8,7),(1.42,7.5),(1.85,0),(1.7,0),(.9,17),(1.2,29),(1.0,30)],
 5: [(.5,35.6),(.56,36.8),(.75,37.7),(.97,34),(1.45,37.6),(1.35,38),(1.3,29),(1.26,30),(1.5,30),(1.7,32.4),(1.75,31),(1.73,30.5),(1.76,34),(1.35,28),(.49,27.7),(.57,24),(.4,21.5),(.55,20.5),(.65,20.3),(.52,20.2),(.37,20),(.2,14.5),(.69,14.8),(.65,14),(1.13,20),(1.05,24),(1.0,25),(1.1,25.5),(1.2,26),(.95,26),(1.05,29),(1.0,21),(1.2,21),(1.35,15),(1.45,14),(1.5,15),(1.72,14),(1.78,11.5),(1.67,9.5),(1.81,24),(.45,5.7),(.42,0),(.67,1),(.84,.2),(.97,.2),(1,.2),(1.1,.5),(1.2,.3),(1.75,4),(1.8,5),(1.75,3)],
 9: [(.87,30.5),(.72,6.5),(.85,12),(1.2,11.5),(1.3,5),(1.38,40.5),(.95,16)],
 10: [(1.13,7.5)],
 3: [(1.26,41.8),(.83,38.5),(1.37,36),(.43,23.9),(.75,24),(.37,14.5),(.25,16),(.3,15.5),(.4,12),(.44,11),(.47,11.5),(.53,10.5),(.45,7),(.43,3.5),(.6,3),(.75,5.5),(.74,4),(.8,7),(.7,15.5),(.98,17.5),(1.15,17),(1.25,15),(1.3,15),(1.27,12),(1.05,12),(1.0,11),(1.15,9),(1.2,10),(1.25,8),(1.3,7),(1.0,8),(1.05,7),(.98,5),(1.03,4),(1.15,5),(1.25,3),(1.25,2),(1.35,1.5),(.85,2),(.95,1.5),(1.05,1.5),(1.13,1),(1.5,0),(1.55,0),(1.83,1.5),(1.88,13.5),(.9,20.5),(1.17,25.5),(1.35,17)],
}
b_se_sn_top = {
 5: [(.93,20.5),(.98,21),(1.03,22),(.99,21),(1.1,19.5),(1.15,20),(1.2,22),(1.0,25),(1.15,24),(1.1,27),(1.22,26),(1.3,27),(1.28,24),(1.35,24),(1.05,21),(1.08,29),(.88,.2),(1.05,.1),(1.27,.2)],
 2: [(.98,26),(1.0,24),(1.05,23),(1.08,27),(1.12,26),(1.15,28),(1.2,26),(1.25,30),(1.05,27),(.97,22),(1.03,20),(1.07,18),(1.1,21),(1.15,22),(1.18,20),(1.22,23),(1.25,22),(1.0,19.5),(1.08,16),(1.3,20),(1.03,29)],
 4: [(1.22,.2),(1.18,.5),(1.12,.3),(1.15,.7),(1.27,.3),(1.05,.3),(.92,20),(1.0,20),(1.07,20),(1.1,22)],
 6: [(.93,15),(1.0,13),(1.15,17),(1.25,11.5),(1.05,1),(.95,1),(1.1,1),(.73,19),(.85,15),(1.12,1.5)],
 8: [(.9,6),(.93,2),(.97,3.5),(1.0,4),(1.05,7),(1.12,5),(1.2,4.5),(1.27,.8),(1.15,3.5),(1.35,11),(1.25,9),(1.1,4)],
 3: [(.9,6.5),(.95,7),(1.0,9),(1.03,8),(1.05,6.5),(1.08,5),(1.1,7),(1.13,6),(1.2,7),(1.22,9),(1.25,10),(1.28,10),(1.15,7.5),(1.15,4),(1.05,3),(1.1,2.5),(.97,3.5),(.93,4),(1.0,2),(1.15,2),(1.2,1.5),(1.3,3),(1.33,1),(1.0,13.5),(1.02,15),(1.1,18),(1.15,19),(1.2,21),(1.25,18),(1.28,17),(1.22,15),(.95,16),(1.08,12.5),(.87,17),(.9,17),(1.06,22)],
 7: [(1.1,14),(1.13,13),(1.17,15),(1.22,16),(1.08,11),(.92,13)],
 1: [(.93,.5),(1.14,7.5),(1.3,2.5),(1.38,1)],
}

BOLD = {"family": ["Liberation Sans", "DejaVu Sans"], "weight": "bold", "color": "black"}
XL_AR = (-1.1, 1.096)
XL_SE = (-0.1, 2.096)
YL_SE = (-0.1, 2.094)
YL_SN = (-2.3, 49.9)

sns.set_theme(style="white")
plt.rcParams["font.family"] = ["Liberation Sans", "DejaVu Sans"]
plt.rcParams["axes.unicode_minus"] = False
fig = plt.figure(figsize=(10.97, 14.61), dpi=100)
W, H = 1097.0, 1461.0


def frame(*layers):
    rows = [(x, y, c) for s in layers for c, pts in s.items() for x, y in pts]
    return pd.DataFrame(rows, columns=["x", "y", "cluster"])


def panel(box, layers, xlim, ylim, xlabel, ylabel, xt, yt, title=None):
    l, t, r, b = box
    ax = fig.add_axes([l / W, 1 - b / H, (r - l) / W, (b - t) / H])
    sns.scatterplot(data=frame(*layers), x="x", y="y", hue="cluster", palette=COLORS,
                    s=104, linewidth=0, legend=False, ax=ax)
    ax.set_xlim(*xlim)
    ax.set_ylim(*ylim)
    ax.set_xticks(xt)
    ax.set_yticks(yt)
    ax.xaxis.set_minor_locator(MultipleLocator(0.25))
    ax.set_axisbelow(True)
    ax.grid(axis="x", which="both", color="#ebebeb", lw=1)
    ax.grid(axis="y", visible=False)
    ax.tick_params(axis="both", which="major", length=4, width=1, color="#333333",
                   labelsize=11.5, pad=2.5, left=True, bottom=True)
    ax.tick_params(axis="x", which="minor", length=0)
    for lab in ax.get_xticklabels() + ax.get_yticklabels():
        lab.set_fontweight("bold")
        lab.set_color("black")
    ax.set_xlabel(xlabel, fontsize=12.5, labelpad=4.5, **BOLD)
    ax.set_ylabel(ylabel, fontsize=12.5, **BOLD)
    ax.yaxis.set_label_coords(-38 / (r - l), 0.5)
    for s in ax.spines.values():
        s.set_color("#666666")
        s.set_linewidth(1)
    if title:
        ax.set_title(title, loc="left", fontsize=13.6, pad=10, **BOLD)
    return ax


ar_t = [-1.0, -0.5, 0.0, 0.5, 1.0]
se_t = [0.0, 0.5, 1.0, 1.5, 2.0]
s_t = [0, 10, 20, 30, 40]
LX, RX = (64, 544), (618, 1098)
panel((LX[0], 105, LX[1], 478), (a_ar_se, a_ar_se_top), XL_AR, YL_SE, "aridity", "seaonality", ar_t, se_t,
      "(a) Hydrological cluster catchment attributes-based")
panel((RX[0], 105, RX[1], 478), (b_ar_se, b_ar_se_top), XL_AR, YL_SE, "aridity", "seaonality", ar_t, se_t,
      "(b) Hydrological cluster flow signature-based")
panel((LX[0], 571, LX[1], 944), (a_ar_sn, a_ar_sn_top), XL_AR, YL_SN, "aridity", "precip.as snow", ar_t, s_t)
panel((RX[0], 571, RX[1], 944), (b_ar_sn, b_ar_sn_top), XL_AR, YL_SN, "aridity", "precip.as snow", ar_t, s_t)
panel((LX[0], 1037, LX[1], 1411), (a_se_sn, a_se_sn_top), XL_SE, YL_SN, "seaonality", "precip.as snow", se_t, s_t)
panel((RX[0], 1037, RX[1], 1411), (b_se_sn, b_se_sn_top), XL_SE, YL_SN, "seaonality", "precip.as snow", se_t, s_t)

handles = [Line2D([], [], ls="", marker="o", ms=10, mew=0, color=COLORS[k]) for k in COLORS]
labels = [str(k) for k in COLORS]
leg = fig.legend(handles, labels, ncol=5, loc="center left", bbox_to_anchor=(490 / W, 1 - 31 / H),
                 frameon=False, handlelength=1.0, handletextpad=0.71, columnspacing=0.75,
                 labelspacing=0.62, prop={"family": "Liberation Sans", "weight": "bold", "size": 14})
for t in leg.get_texts():
    t.set_color("black")
fig.text(403 / W, 1 - 30 / H, "Hydrological cluster", ha="center", va="center",
         fontsize=13.6, **BOLD)

fig.text(515 / W, 1 - 885 / H, "Journal Pre-proof", rotation=55, rotation_mode="anchor",
         ha="center", va="center", fontsize=92, color="#e4e4e4", zorder=20,
         family=["Liberation Sans", "DejaVu Sans"])

fig.savefig("out.png", dpi=100)
